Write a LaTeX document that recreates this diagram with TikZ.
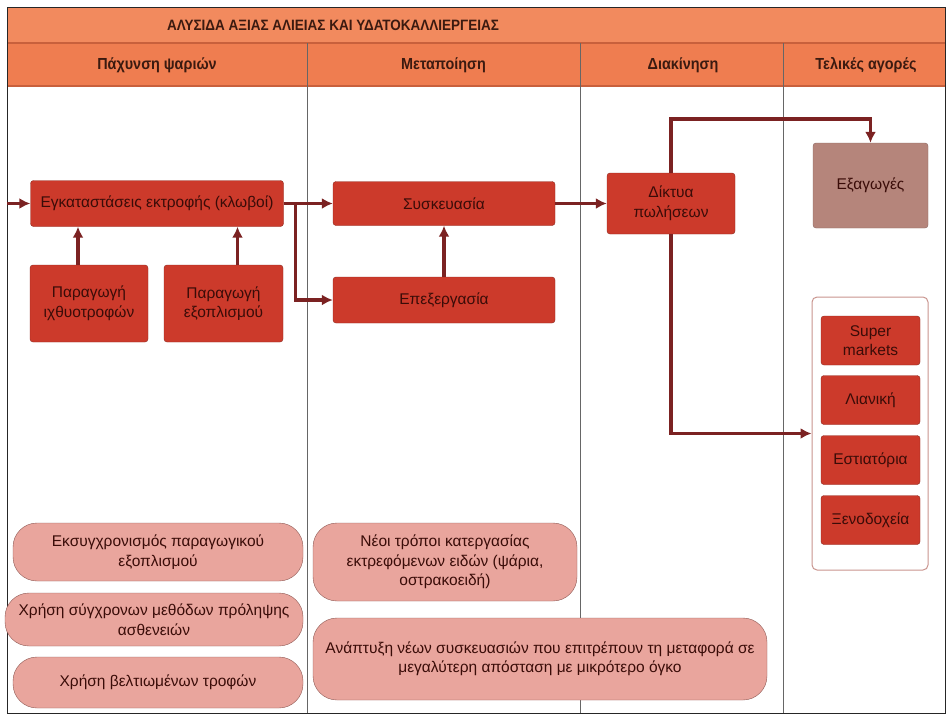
\documentclass[tikz,border=0pt]{standalone}
\usepackage{fontspec}
\setmainfont{Liberation Sans}
\newfontfamily\narrowsans{Liberation Sans}[FakeStretch=0.9]
\usetikzlibrary{arrows.meta}

\definecolor{boxred}{HTML}{CC3A2B}
\definecolor{boxedge}{HTML}{8E2A20}
\definecolor{boxtext}{HTML}{3A0C08}
\definecolor{arrowcol}{HTML}{7B2222}
\definecolor{exportfill}{HTML}{B5857B}
\definecolor{exportedge}{HTML}{8A6660}
\definecolor{pinkfill}{HTML}{E9A59D}
\definecolor{pinkedge}{HTML}{8E5A55}
\definecolor{titlefill}{HTML}{F28A5E}
\definecolor{headfill}{HTML}{EF7D50}
\definecolor{sepcol}{HTML}{C8603C}
\definecolor{headtext}{HTML}{3B1A10}
\definecolor{groupedge}{HTML}{C9948E}

\newcommand\boxfont{\fontsize{15.5}{19.5}\selectfont}

\begin{document}
\begin{tikzpicture}[x=1pt,y=-1pt]
				\tikzstyle{arrow}=[draw, -{Latex[length=11pt,width=11pt]}, line width=3.4pt, arrowcol]
				\tikzstyle{redbox}=[draw=boxedge, fill=boxred, rounded corners=3pt, text=boxtext, align=center, font=\boxfont, inner sep=2pt]
				\tikzstyle{exportbox}=[redbox, draw=exportedge, fill=exportfill]
				\tikzstyle{pinkbox}=[draw=pinkedge, fill=pinkfill, rounded corners=24pt, text=boxtext, align=center, font=\boxfont, inner sep=2pt]
				\tikzstyle{groupbox}=[draw=groupedge, fill=white, rounded corners=5pt, line width=1pt]
				\tikzstyle{header}=[font=\narrowsans\bfseries\fontsize{16}{18}\selectfont, text=headtext]
				\newcommand\XFrameL{7}
				\newcommand\XFrameR{945}
				\newcommand\YFrameT{7}
				\newcommand\YFrameB{713}
				\newcommand\YHead{43}
				\newcommand\YBody{86}
				\newcommand\YMain{203.5}

				\useasboundingbox (0,0) rectangle (947,718);

				% Title and headers
				\fill [titlefill] (\XFrameL,\YFrameT) rectangle (\XFrameR,\YHead);
				\fill [headfill] (\XFrameL,\YHead) rectangle (\XFrameR,\YBody);
				\draw [sepcol, line width=1.2pt] (\XFrameL,\YHead) -- (\XFrameR,\YHead);
				\draw [sepcol, line width=1.2pt] (\XFrameL,\YBody) -- (\XFrameR,\YBody);
				\foreach \x in {307,580,783}
					\draw [gray!80!black] (\x,\YHead) -- (\x,\YFrameB);
				\draw [black!85, line width=1pt] (\XFrameL,\YFrameT) rectangle (\XFrameR,\YFrameB);

				\node [header, font=\narrowsans\bfseries\fontsize{15}{17}\selectfont] at (333,25) (title) {ΑΛΥΣΙΔΑ ΑΞΙΑΣ ΑΛΙΕΙΑΣ ΚΑΙ ΥΔΑΤΟΚΑΛΛΙΕΡΓΕΙΑΣ};
				\node [header] at (157,65) (hfarm) {Πάχυνση ψαριών};
				\node [header] at (443.5,65) (hproc) {Μεταποίηση};
				\node [header] at (683,65) (hdist) {Διακίνηση};
				\node [header] at (866,65) (hmarket) {Τελικές αγορές};

				% Chain
				\node [redbox, minimum width=253, minimum height=46] at (157,\YMain) (farm) {Εγκαταστάσεις εκτροφής (κλωβοί)};
				\node [redbox, minimum width=118, minimum height=77] at (89,303.5) (feed) {Παραγωγή\\ιχθυοτροφών};
				\node [redbox, minimum width=119, minimum height=77] at (223.5,303.5) (gear) {Παραγωγή\\εξοπλισμού};
				\node [redbox, minimum width=222, minimum height=44] at (444,\YMain) (pack) {Συσκευασία};
				\node [redbox, minimum width=222, minimum height=46] at (444,300) (proc) {Επεξεργασία};
				\node [redbox, minimum width=128, minimum height=61] at (671,\YMain) (sales) {Δίκτυα\\πωλήσεων};
				\node [exportbox, minimum width=115, minimum height=85] at (870.5,185.5) (export) {Εξαγωγές};

				% Markets
				\node [groupbox, minimum width=116, minimum height=273] at (870,433.5) (markets) {};
				\node [redbox, minimum width=99, minimum height=49] at (870.5,340.5) (super) {Super\\markets};
				\node [redbox, minimum width=99, minimum height=49] at (870.5,400) (retail) {Λιανική};
				\node [redbox, minimum width=99, minimum height=49] at (870.5,460) (rest) {Εστιατόρια};
				\node [redbox, minimum width=99, minimum height=49] at (870.5,520) (hotel) {Ξενοδοχεία};

				% Actions
				\node [pinkbox, minimum width=290, minimum height=58] at (158,552) (modern) {Εκσυγχρονισμός παραγωγικού\\εξοπλισμού};
				\node [pinkbox, minimum width=298, minimum height=53] at (154,619.5) (disease) {Χρήση σύγχρονων μεθόδων πρόληψης\\ασθενειών};
				\node [pinkbox, minimum width=290, minimum height=51] at (158,682.5) (feedq) {Χρήση βελτιωμένων τροφών};
				\node [pinkbox, minimum width=264, minimum height=78] at (445,562) (methods) {Νέοι τρόποι κατεργασίας\\εκτρεφόμενων ειδών (ψάρια,\\οστρακοειδή)};
				\node [pinkbox, minimum width=454, minimum height=82] at (540,659) (packnew) {Ανάπτυξη νέων συσκευασιών που επιτρέπουν τη μεταφορά σε\\μεγαλύτερη απόσταση με μικρότερο όγκο};

				% Path Arrows
				\coordinate (inlet) at (\XFrameL,\YMain);
				\path [arrow] (inlet) -- (farm.west);
				\path [arrow] ([xshift=-11pt]feed.north) -- ([xshift=-11pt]feed.north |- farm.south);
				\path [arrow] ([xshift=14pt]gear.north) -- ([xshift=14pt]gear.north |- farm.south);
				\path [arrow] (farm.east) -- (pack.west);
				\path [arrow] (farm.east) -- ++(12,0) |- (proc.west);
				\path [arrow] (proc.north) -- (pack.south);
				\path [arrow] (pack.east) -- (sales.west);
				\path [arrow] (sales.north) -- ++(0,-54) -| (export.north);
				\path [arrow] (sales.south) |- (markets.west);

\end{tikzpicture}
\end{document}
